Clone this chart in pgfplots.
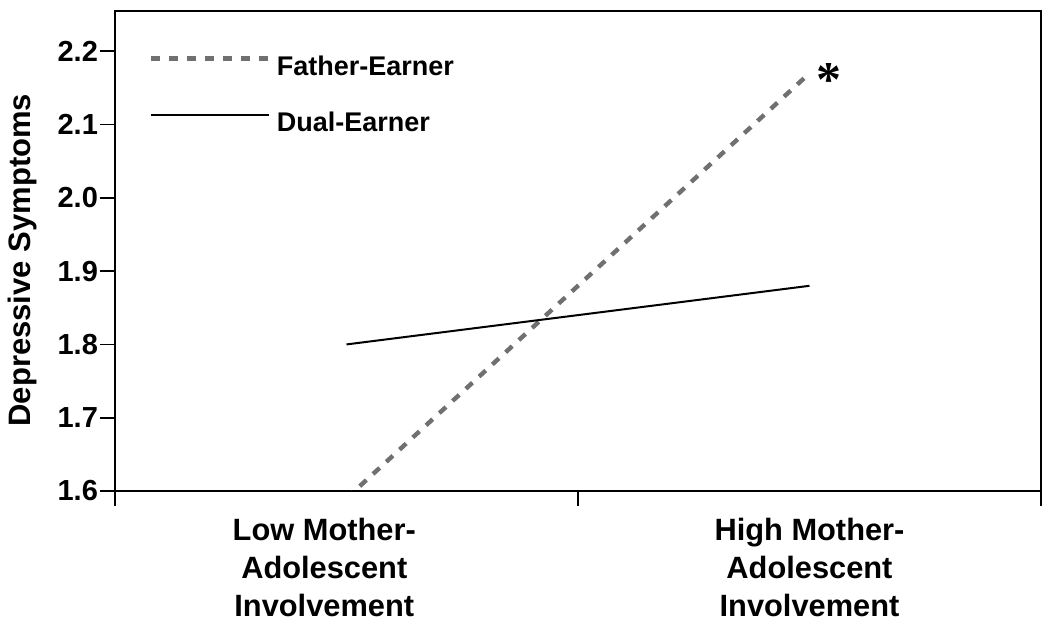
\documentclass[border=0pt]{standalone}
\usepackage{pgfplots}
\pgfplotsset{compat=1.18}
\usepackage{fontspec}
\setmainfont{Liberation Sans}
\newfontfamily\serifast{Liberation Serif}
\definecolor{fe}{RGB}{112,112,112}
\begin{document}
\begin{tikzpicture}
\begin{axis}[
  name=ax,
  scale only axis, width=463pt, height=240pt,
  xmin=0, xmax=2, ymin=1.6, ymax=2.255,
  axis line style={line width=0.9pt},
  every tick/.style={line width=0.9pt, black},
  tick align=outside, major tick length=7.5pt,
  xtick={0,1,2}, xticklabels={},
  xtick pos=bottom, ytick pos=left,
  ytick={1.6,1.7,1.8,1.9,2.0,2.1,2.2},
  /pgf/number format/assume math mode=true,
  yticklabel style={/pgf/number format/fixed, /pgf/number format/fixed zerofill, /pgf/number format/precision=1, font=\fontsize{14.5}{16}\selectfont\bfseries, xshift=2.5pt},
  xticklabel style={align=center, font=\fontsize{15.4}{19}\selectfont\bfseries, yshift=-10pt},
  extra x ticks={0.452,1.5},
  extra x tick labels={{Low Mother-\\Adolescent\\Involvement},{High Mother-\\Adolescent\\Involvement}},
  extra x tick style={major tick length=0pt},
  ylabel={Depressive Symptoms},
  ylabel style={font=\fontsize{15.5}{18}\selectfont\bfseries, at={(axis description cs:-0.1004,0.481)}, anchor=center},
  legend image code/.code={\draw[#1] (0pt,4.2pt) -- (59pt,4.2pt);},
  legend cell align=left,
  legend style={draw=none, fill=none, inner sep=0pt, nodes={inner sep=0pt}, column sep=3pt, row sep=17pt,
    font=\fontsize{13.5}{16}\selectfont\bfseries, at={(axis description cs:0.0356,0.908)}, anchor=north west},
]
\addplot[fe, line width=2.2pt, dash pattern=on 4.5pt off 4.5pt] coordinates {(0.5,1.59) (1.5,2.17)};
\addlegendentry{Father-Earner}
\addplot[black, line width=1pt] coordinates {(0.5,1.80) (1.5,1.88)};
\addlegendentry{Dual-Earner}
\node[font=\serifast\bfseries\fontsize{25}{25}\selectfont, anchor=base, inner sep=0pt] at (axis cs:1.5,2.17) [xshift=9.5pt, yshift=-11.5pt] {*};
\coordinate (BL) at (rel axis cs:0,0);
\coordinate (TR) at (rel axis cs:1,1);
\end{axis}
\pgfresetboundingbox
\path[use as bounding box] ([xshift=-57.5pt,yshift=-69.5pt]BL) rectangle ([xshift=4.5pt,yshift=5.5pt]TR);
\end{tikzpicture}
\end{document}
